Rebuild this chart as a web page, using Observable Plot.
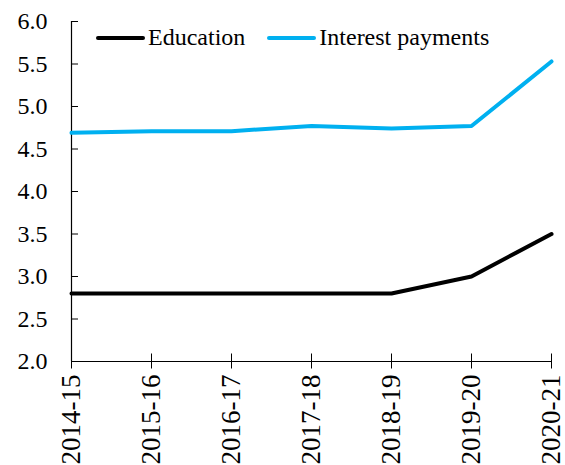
<!DOCTYPE html>
<html>
<head>
<meta charset="utf-8">
<script src="https://cdn.jsdelivr.net/npm/d3@7"></script>
<script src="https://cdn.jsdelivr.net/npm/@observablehq/plot@0.6"></script>
<style>
  html, body { margin: 0; padding: 0; background: #fff; }
  #wrap { position: relative; width: 565px; height: 465px; overflow: hidden; font-family: "Liberation Serif", "Times New Roman", serif; }
  #legend { position: absolute; top: 24px; left: 96px; display: flex; align-items: center; font-size: 24px; color: #000; white-space: nowrap; }
  #legend .item { display: flex; align-items: center; margin-right: 22px; }
  #legend .sw { width: 49px; height: 4px; border-radius: 2px; margin-right: 3px; }
</style>
</head>
<body>
<div id="wrap"><div id="legend"></div></div>
<script>
const years = ["2014-15", "2015-16", "2016-17", "2017-18", "2018-19", "2019-20", "2020-21"];
const education = [2.8, 2.8, 2.8, 2.8, 2.8, 3.0, 3.5];
const interest = [4.69, 4.71, 4.71, 4.77, 4.74, 4.77, 5.53];
const seriesNames = ["Education", "Interest payments"];
const seriesColors = ["#000000", "#00B0F0"];
const yTicks = [2.0, 2.5, 3.0, 3.5, 4.0, 4.5, 5.0, 5.5, 6.0];

const rows = [];
years.forEach((y, i) => {
  rows.push({year: y, value: education[i], series: seriesNames[0]});
  rows.push({year: y, value: interest[i], series: seriesNames[1]});
});

const serif = "Liberation Serif";

const chart = Plot.plot({
  width: 565,
  height: 465,
  marginLeft: 71,
  marginRight: 14,
  marginTop: 21,
  marginBottom: 104,
  style: {fontFamily: serif, fontSize: "24px", background: "#fff", color: "#000"},
  x: {type: "point", domain: years, padding: 0},
  y: {domain: [2, 6]},
  color: {domain: seriesNames, range: seriesColors},
  marks: [
    Plot.axisY({ticks: yTicks, tickFormat: d3.format(".1f"), tickSize: -7, tickPadding: 31, fontSize: 24, fontFamily: serif, label: null, stroke: "#000"}),
    Plot.axisX({tickSize: 0, tickPadding: 13, tickRotate: -90, fontSize: 27, fontFamily: serif, label: null}),
    Plot.axisX({tickSize: 15, dy: -7.5, tickFormat: () => "", label: null, stroke: "#000"}),
    Plot.ruleY([2], {stroke: "#000", strokeWidth: 1.2}),
    Plot.ruleX([years[0]], {stroke: "#000", strokeWidth: 1.2}),
    Plot.line(rows, {x: "year", y: "value", stroke: "series", z: "series", strokeWidth: 4, strokeLinejoin: "round"})
  ]
});
document.getElementById("wrap").appendChild(chart);

const legend = document.getElementById("legend");
seriesNames.forEach((name, i) => {
  const item = document.createElement("div");
  item.className = "item";
  const sw = document.createElement("span");
  sw.className = "sw";
  sw.style.background = seriesColors[i];
  const lab = document.createElement("span");
  lab.textContent = name;
  item.appendChild(sw);
  item.appendChild(lab);
  legend.appendChild(item);
});
</script>
</body>
</html>
